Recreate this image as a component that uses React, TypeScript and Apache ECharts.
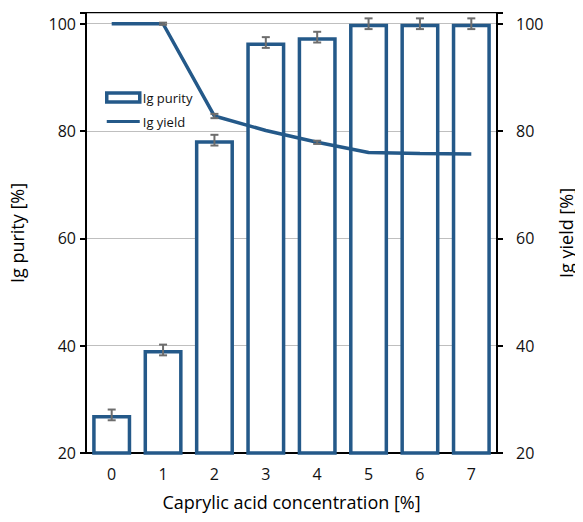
import React, { useEffect, useRef } from "react";
import * as echarts from "echarts";

const categories = ["0", "1", "2", "3", "4", "5", "6", "7"];
const purity = [27.1, 39.2, 78.3, 96.5, 97.5, 100, 100, 100];
const purityErr = [1.0, 1.0, 1.0, 1.0, 1.0, 1.0, 1.0, 1.0];
const yieldVals = [100, 100, 82.8, 80.1, 77.9, 76.0, 75.8, 75.7];
const yieldErr = [0, 0.2, 0.4, 0, 0.3, 0, 0, 0];
const yTicks = [20, 40, 60, 80, 100];

const BLUE = "#245989";
const GREY = "#6d6d6d";
const FONT = "Open Sans";

function errorSeries(name: string, vals: number[], errs: number[], yAxisIndex: number, capHalf: number) {
  return {
    name,
    type: "custom",
    yAxisIndex,
    z: 10,
    silent: true,
    data: vals.map((v, i) => [i, v - errs[i], v + errs[i]]),
    renderItem: (params: any, api: any) => {
      const x = api.value(0);
      const lo = api.coord([x, api.value(1)]);
      const hi = api.coord([x, api.value(2)]);
      if (Math.abs(lo[1] - hi[1]) < 0.5) return { type: "group", children: [] };
      const style = { stroke: GREY, lineWidth: 2 };
      return {
        type: "group",
        children: [
          { type: "line", shape: { x1: lo[0], y1: lo[1], x2: hi[0], y2: hi[1] }, style },
          { type: "line", shape: { x1: lo[0] - capHalf, y1: lo[1], x2: lo[0] + capHalf, y2: lo[1] }, style },
          { type: "line", shape: { x1: hi[0] - capHalf, y1: hi[1], x2: hi[0] + capHalf, y2: hi[1] }, style },
        ],
      };
    },
  };
}

export default function App() {
  const ref = useRef<HTMLDivElement>(null);
  useEffect(() => {
    if (!ref.current) return;
    const chart = echarts.init(ref.current, null, { renderer: "svg" });
    const axisCommon = {
      type: "value",
      min: 20,
      max: 102,
      interval: 20,
      nameLocation: "middle",
      nameRotate: 90,
      nameTextStyle: { fontFamily: FONT, fontSize: 18, color: "#000" },
      axisLine: { show: true, lineStyle: { color: "#000", width: 2 } },
      axisTick: { show: true, length: 6, lineStyle: { color: "#000", width: 2 } },
      axisLabel: {
        fontFamily: FONT,
        fontSize: 16,
        color: "#111",
        formatter: (v: number) => (yTicks.indexOf(v) >= 0 ? String(v) : ""),
      },
    };
    chart.setOption({
      animation: false,
      backgroundColor: "#fff",
      grid: {
        left: 86,
        right: 79,
        top: 13,
        bottom: 69,
        show: true,
        borderColor: "#000",
        borderWidth: 2,
        backgroundColor: "transparent",
      },
      legend: {
        orient: "vertical",
        left: 100,
        top: 86,
        itemWidth: 33,
        itemHeight: 9,
        itemGap: 11,
        data: [
          {
            name: "Ig purity",
            icon: "rect",
            itemStyle: { color: "#ffffff", borderColor: BLUE, borderWidth: 3.5 },
          },
          { name: "Ig yield", icon: "path://M0,3.5 L35,3.5 L35,6.5 L0,6.5 Z" },
        ],
        textStyle: { fontFamily: FONT, fontSize: 13, color: "#111", padding: [0, 0, 0, -2] },
      },
      xAxis: {
        type: "category",
        data: categories,
        boundaryGap: true,
        name: "Caprylic acid concentration [%]",
        nameLocation: "middle",
        nameGap: 40,
        nameTextStyle: { fontFamily: FONT, fontSize: 18, color: "#000" },
        axisLine: { lineStyle: { color: "#000", width: 2 } },
        axisTick: { show: false },
        axisLabel: { fontFamily: FONT, fontSize: 16, color: "#111", margin: 13 },
      },
      yAxis: [
        {
          ...axisCommon,
          position: "left",
          name: "Ig purity [%]",
          nameGap: 60,
          axisLabel: { ...axisCommon.axisLabel, margin: 10 },
          splitLine: { show: true, lineStyle: { color: "#bfbfbf", width: 1.2 } },
        },
        {
          ...axisCommon,
          position: "right",
          name: "Ig yield [%]",
          nameGap: 60,
          axisLabel: { ...axisCommon.axisLabel, margin: 19 },
          splitLine: { show: false },
        },
      ],
      series: [
        {
          name: "Ig purity",
          type: "bar",
          yAxisIndex: 0,
          data: purity,
          barWidth: "76%",
          z: 2,
          itemStyle: { color: "#ffffff", borderColor: BLUE, borderWidth: 3.5 },
        },
        errorSeries("purityErr", purity, purityErr, 0, 4),
        {
          name: "Ig yield",
          type: "line",
          yAxisIndex: 1,
          data: yieldVals,
          symbol: "none",
          z: 5,
          lineStyle: { color: BLUE, width: 3.5 },
          itemStyle: { color: BLUE },
        },
        errorSeries("yieldErr", yieldVals, yieldErr, 1, 4),
      ],
    });
    return () => chart.dispose();
  }, []);
  return <div ref={ref} style={{ width: 583, height: 522, margin: -8 }} />;
}
